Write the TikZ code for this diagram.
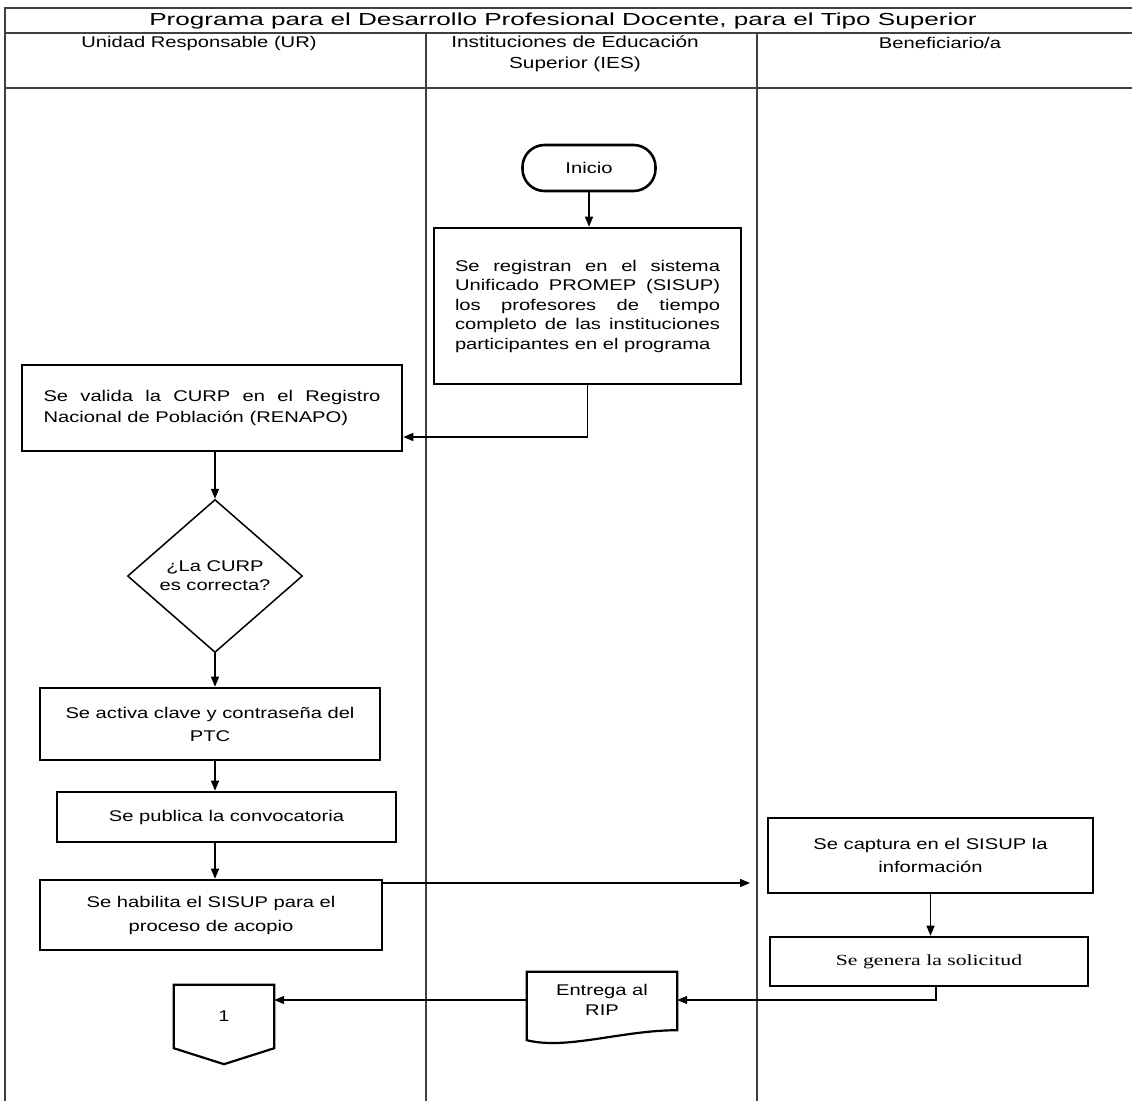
\documentclass[tikz,border=0pt]{standalone}
\usepackage{fontspec}
\setmainfont[FakeStretch=1.3]{Liberation Sans}
\newfontfamily\titlefont[FakeStretch=1.5]{Liberation Sans}
\newfontfamily\serffont[FakeStretch=1.4]{Liberation Serif}
\usetikzlibrary{arrows.meta,shapes.geometric}
\tolerance=9999 \hbadness=10000
\begin{document}
\begin{tikzpicture}[x=1pt,y=-1pt,
  every node/.style={font=\fontsize{15.5}{20}\selectfont, inner sep=0pt},
  procbox/.style={draw, line width=2.6pt},
  frame/.style={draw=black!75, line width=1.2pt},
  arr/.style={line width=1.3pt, -{Triangle[length=10pt,width=8pt]}},
  outl/.style={draw, line width=2.2pt}]
\useasboundingbox (0,0) rectangle (1132,1101);
% frame
\draw[frame] (5,1101) -- (5,8) -- (1132,8);
\draw[frame] (5,33) -- (1132,33);
\draw[frame] (5,88) -- (1132,88);
\draw[frame] (426,33) -- (426,1101);
\draw[frame] (757,33) -- (757,1101);
% headers
\node[font=\titlefont\fontsize{17.4}{20}\selectfont] (title) at (563,21) {Programa para el Desarrollo Profesional Docente, para el Tipo Superior};
\node (hur) at (199,43) {Unidad Responsable (UR)};
\node[align=center, font=\fontsize{16}{21}\selectfont] (hies) at (575,54) {Instituciones de Educación\\Superior (IES)};
\node (hben) at (940,43) {Beneficiario/a};
% nodes
\node[draw, line width=2.6pt, rounded corners=22pt, minimum width=133, minimum height=46] (ini) at (589,168) {Inicio};
\node[procbox, minimum width=307, minimum height=156, text width=265pt, align=justify, font=\fontsize{15.5}{19.5}\selectfont] (reg) at (587.5,306) {Se registran en el sistema\linebreak Unificado PROMEP (SISUP)\linebreak los profesores de tiempo\linebreak completo de las instituciones\linebreak participantes en el programa};
\node[procbox, minimum width=380, minimum height=86, text width=337pt, align=justify, font=\fontsize{15.5}{21}\selectfont] (val) at (212,408) {Se valida la CURP en el Registro\linebreak Nacional de Población (RENAPO)};
\node[draw, diamond, line width=1.5pt, minimum width=175, minimum height=153, align=center, font=\fontsize{15.5}{19}\selectfont] (dia) at (215,576) {¿La CURP\\es correcta?};
\node[procbox, minimum width=340, minimum height=72, align=center, font=\fontsize{15.5}{23}\selectfont] (act) at (210,724) {Se activa clave y contraseña del\\PTC};
\node[procbox, minimum width=339, minimum height=50] (pub) at (226.5,817) {Se publica la convocatoria};
\node[procbox, minimum width=342, minimum height=70, align=center, font=\fontsize{15.5}{24}\selectfont] (hab) at (211,915) {Se habilita el SISUP para el\\proceso de acopio};
\node[procbox, minimum width=325, minimum height=75, align=center, font=\fontsize{15.5}{23}\selectfont] (cap) at (930.5,855.5) {Se captura en el SISUP la\\información};
\node[procbox, minimum width=318, minimum height=49, font=\serffont\fontsize{15.5}{20}\selectfont] (gen) at (929,961.5) {Se genera la solicitud};
\node[minimum width=150, minimum height=56, align=center] (ent) at (602,1000) {Entrega al\\RIP};
\draw[outl] (ent.north west) -- (ent.north east) -- ([yshift=-2pt]ent.south east)
  .. controls ([xshift=-55pt,yshift=-2pt]ent.south east) and ([xshift=40pt,yshift=-22pt]ent.south west) ..
  ([yshift=-12pt]ent.south west) -- cycle;
\node[minimum width=100, minimum height=63] (con) at (224,1016.5) {1};
\draw[outl] (con.north west) -- (con.north east) -- (con.south east) -- ([yshift=-16pt]con.south) -- (con.south west) -- cycle;
% connectors
\draw[arr] (ini) -- (ini |- reg.north);
\draw[arr] (reg.south) |- ([yshift=-29pt]val.east);
\draw[arr] (val.south -| dia.north) -- (dia.north);
\draw[arr] (dia.south) -- (dia.south |- act.north);
\draw[arr] (act.south -| dia.south) -- (dia.south |- pub.north);
\draw[arr] (pub.south -| dia.south) -- (dia.south |- hab.north);
\coordinate (hend) at (750,883);
\draw[arr] (hab.east |- hend) -- (hend);
\draw[arr] (cap.south) -- (cap.south |- gen.north);
\draw[arr] ([xshift=7pt]gen.south) |- (ent.east);
\draw[arr] (ent.west) -- (ent.west -| con.east);
\end{tikzpicture}
\end{document}
